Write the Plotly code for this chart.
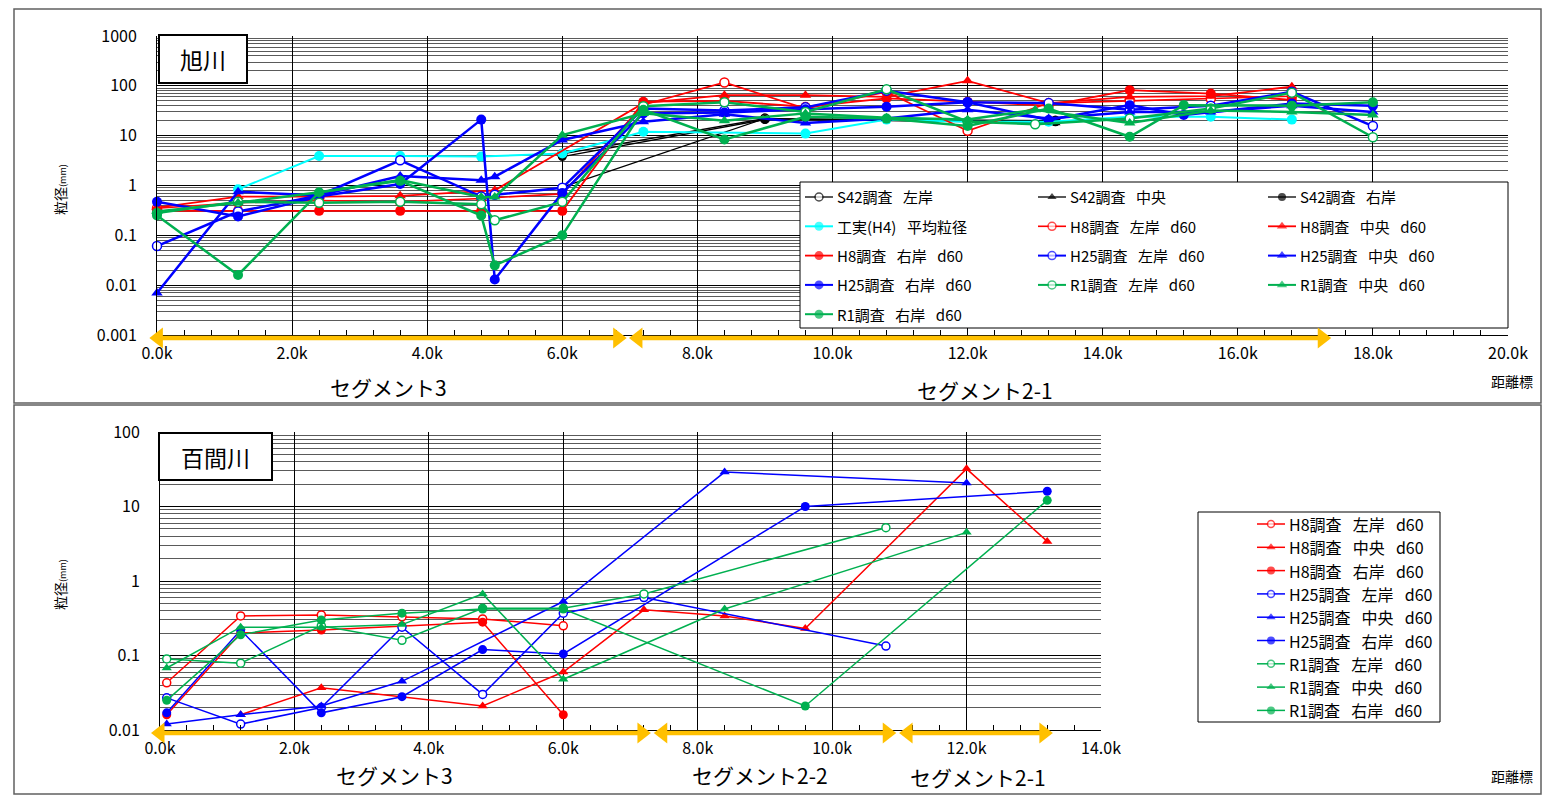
import plotly.graph_objects as go

# page body has an 8px margin: figure is shrunk and all reference pixel positions shifted
OFF = 8
W, H = 1551 - 2 * OFF, 803 - 2 * OFF
def px(x): return min(1.0, max(0.0, (x - OFF) / W))
def py(y): return min(1.0, max(0.0, 1 - (y - OFF) / H))

FONT = "Noto Sans CJK JP"
RED, BLUE, GREEN, CYAN, BLACK = "#FF0000", "#0000FF", "#00B050", "#00FFFF", "#000000"
YEL = "#FFC000"

# ---------------- 旭川 (top) data ----------------
s42_l_x = [6.0, 9.0, 13.3];  s42_l_y = [4.3, 22, 20]
s42_c_x = [6.0, 9.0, 13.3];  s42_c_y = [0.93, 22, 18]
s42_r_x = [6.0, 9.0, 13.3];  s42_r_y = [3.8, 21, 19]
h4_x = [1.2, 2.4, 3.6, 4.8, 6.0, 7.2, 9.6, 10.8, 12.0, 13.2, 14.4, 15.6, 16.8]
h4_y = [0.84, 3.9, 3.9, 3.8, 4.4, 12, 11, 21, 19, 19, 24, 24, 21]
a_h8_l_x = [0, 1.2, 2.4, 3.6, 4.8, 6.0, 7.2, 8.4, 9.6, 10.8, 12.0, 13.2, 14.4, 15.6, 16.8]
a_h8_l_y = [0.35, 0.45, 0.5, 0.47, 0.55, 0.68, 42, 117, 35, 75, 12.5, 45, 50, 55, 62]
a_h8_c_x = [0, 1.2, 2.4, 3.6, 5.0, 7.2, 8.4, 9.6, 10.8, 12.0, 13.2, 14.4, 15.6, 16.8]
a_h8_c_y = [0.36, 0.6, 0.6, 0.62, 0.8, 45, 65, 65, 60, 126, 45, 60, 62, 96]
a_h8_r_x = [0, 1.2, 2.4, 3.6, 4.8, 6.0, 7.2, 8.4, 9.6, 10.8, 12.0, 13.2, 14.4, 15.6, 16.8]
a_h8_r_y = [0.31, 0.31, 0.31, 0.31, 0.31, 0.31, 48, 50, 38, 56, 48, 40, 82, 70, 52]
a_h25_l_x = [0, 1.2, 2.4, 3.6, 4.8, 5.0, 6.0, 7.2, 8.4, 9.6, 10.8, 12.0, 13.2, 14.4, 15.6, 16.8, 18.0]
a_h25_l_y = [0.061, 0.3, 0.63, 3.2, 0.6, 0.65, 0.9, 35, 32, 37, 80, 47, 45, 33, 40, 76, 15.6]
a_h25_c_x = [0, 1.2, 2.4, 3.6, 4.8, 5.0, 6.0, 7.2, 8.4, 9.6, 10.8, 12.0, 13.2, 14.4, 15.6, 16.8, 18.0]
a_h25_c_y = [0.007, 0.75, 0.63, 1.55, 1.28, 1.5, 8.2, 19, 27, 18, 22, 33, 22, 30, 30, 40, 30]
a_h25_r_x = [0, 1.2, 2.4, 3.6, 4.8, 5.0, 6.0, 7.2, 8.4, 9.6, 10.8, 12.0, 13.2, 14.4, 15.2, 16.8, 18.0]
a_h25_r_y = [0.47, 0.24, 0.6, 1.07, 21, 0.013, 0.71, 28, 29, 34, 38, 47, 20.6, 41, 26, 44, 40]
a_r1_l_x = [0, 1.2, 2.4, 3.6, 4.8, 5.0, 6.0, 7.2, 8.4, 9.6, 10.8, 12.0, 13.0, 14.4, 15.6, 16.8, 18.0]
a_r1_l_y = [0.28, 0.47, 0.45, 0.47, 0.42, 0.2, 0.47, 39, 47, 30, 85, 19, 17, 22, 35, 73, 9.3]
a_r1_c_x = [0, 1.2, 2.4, 3.6, 4.8, 5.0, 6.0, 7.2, 8.4, 9.6, 10.8, 12.0, 13.0, 14.4, 15.6, 16.8, 18.0]
a_r1_c_y = [0.3, 0.45, 0.73, 1.29, 0.59, 0.59, 10.3, 28, 20, 28, 23, 21, 33, 18, 32, 30, 26]
a_r1_r_x = [0, 1.2, 2.4, 3.6, 4.8, 5.0, 6.0, 7.2, 8.4, 9.6, 10.8, 12.0, 13.2, 14.4, 15.2, 16.8, 18.0]
a_r1_r_y = [0.25, 0.016, 0.73, 1.24, 0.25, 0.025, 0.1, 33, 8.4, 24, 22, 15.7, 35, 9.5, 41, 40, 47]

# ---------------- 百間川 (bottom) data ----------------
b_h8_l_x = [0.1, 1.2, 2.4, 3.6, 4.8, 6.0];  b_h8_l_y = [0.043, 0.34, 0.35, 0.33, 0.31, 0.25]
b_h8_c_x = [1.2, 2.4, 4.8, 6.0, 7.2, 8.4, 9.6, 12.0, 13.2]
b_h8_c_y = [0.016, 0.037, 0.021, 0.06, 0.41, 0.34, 0.23, 32, 3.4]
b_h8_r_x = [0.1, 1.2, 2.4, 3.6, 4.8, 6.0];  b_h8_r_y = [0.016, 0.2, 0.22, 0.25, 0.28, 0.016]
b_h25_l_x = [0.1, 1.2, 2.4, 3.6, 4.8, 6.0, 7.2, 10.8]
b_h25_l_y = [0.027, 0.012, 0.02, 0.24, 0.03, 0.37, 0.6, 0.134]
b_h25_c_x = [0.1, 1.2, 2.4, 3.6, 6.0, 8.4, 12.0]
b_h25_c_y = [0.012, 0.016, 0.021, 0.045, 0.53, 29, 20.7]
b_h25_r_x = [0.1, 1.2, 2.4, 3.6, 4.8, 6.0, 9.6, 13.2]
b_h25_r_y = [0.017, 0.22, 0.017, 0.028, 0.12, 0.105, 10, 16]
b_r1_l_x = [0.1, 1.2, 2.4, 3.6, 4.8, 6.0, 7.2, 10.8]
b_r1_l_y = [0.09, 0.079, 0.25, 0.16, 0.43, 0.43, 0.67, 5.2]
b_r1_c_x = [0.1, 1.2, 2.4, 3.6, 4.8, 6.0, 8.4, 12.0]
b_r1_c_y = [0.068, 0.24, 0.24, 0.26, 0.67, 0.048, 0.42, 4.5]
b_r1_r_x = [0.1, 1.2, 2.4, 3.6, 4.8, 6.0, 9.6, 13.2]
b_r1_r_y = [0.025, 0.19, 0.3, 0.37, 0.42, 0.42, 0.021, 12.1]

# segment arrows (km of the two arrowhead centres)
top_segments = [(0.02, 6.82), (7.12, 17.25)]
bot_segments = [(0.0, 7.17), (7.48, 10.82), (11.13, 13.15)]
top_segment_names = ["セグメント3", "セグメント2-1"]
bot_segment_names = ["セグメント3", "セグメント2-2", "セグメント2-1"]

top_xticks = [0, 2, 4, 6, 8, 10, 12, 14, 16, 18, 20]
bot_xticks = [0, 2, 4, 6, 8, 10, 12, 14]
top_yticks = [0.001, 0.01, 0.1, 1, 10, 100, 1000]
top_ytext = ["0.001", "0.01", "0.1", "1", "10", "100", "1000"]
bot_yticks = [0.01, 0.1, 1, 10, 100]
bot_ytext = ["0.01", "0.1", "1", "10", "100"]

SP = "\u2002\u2009"
def nm(*parts): return SP.join(parts)

top_series = [
    (s42_l_x, s42_l_y, nm("S42調査", "左岸"), BLACK, "open", 1.3, 9),
    (s42_c_x, s42_c_y, nm("S42調査", "中央"), BLACK, "tri", 1.3, 9),
    (s42_r_x, s42_r_y, nm("S42調査", "右岸"), BLACK, "filled", 1.3, 9),
    (h4_x, h4_y, nm("工実(H4)", "平均粒径"), CYAN, "filled", 2, 10),
    (a_h8_l_x, a_h8_l_y, nm("H8調査", "左岸", "d60"), RED, "open", 1.6, 9),
    (a_h8_c_x, a_h8_c_y, nm("H8調査", "中央", "d60"), RED, "tri", 1.8, 10),
    (a_h8_r_x, a_h8_r_y, nm("H8調査", "右岸", "d60"), RED, "filled", 1.8, 10),
    (a_h25_l_x, a_h25_l_y, nm("H25調査", "左岸", "d60"), BLUE, "open", 2.5, 9),
    (a_h25_c_x, a_h25_c_y, nm("H25調査", "中央", "d60"), BLUE, "tri", 2.5, 10),
    (a_h25_r_x, a_h25_r_y, nm("H25調査", "右岸", "d60"), BLUE, "filled", 2.5, 10),
    (a_r1_l_x, a_r1_l_y, nm("R1調査", "左岸", "d60"), GREEN, "open", 2.5, 9),
    (a_r1_c_x, a_r1_c_y, nm("R1調査", "中央", "d60"), GREEN, "tri", 2.5, 10),
    (a_r1_r_x, a_r1_r_y, nm("R1調査", "右岸", "d60"), GREEN, "filled", 2.5, 10),
]
bot_series = [
    (b_h8_l_x, b_h8_l_y, nm("H8調査", "左岸", "d60"), RED, "open", 1.5, 8),
    (b_h8_c_x, b_h8_c_y, nm("H8調査", "中央", "d60"), RED, "tri", 1.5, 9),
    (b_h8_r_x, b_h8_r_y, nm("H8調査", "右岸", "d60"), RED, "filled", 1.5, 9),
    (b_h25_l_x, b_h25_l_y, nm("H25調査", "左岸", "d60"), BLUE, "open", 1.5, 8),
    (b_h25_c_x, b_h25_c_y, nm("H25調査", "中央", "d60"), BLUE, "tri", 1.5, 9),
    (b_h25_r_x, b_h25_r_y, nm("H25調査", "右岸", "d60"), BLUE, "filled", 1.5, 9),
    (b_r1_l_x, b_r1_l_y, nm("R1調査", "左岸", "d60"), GREEN, "open", 1.5, 8),
    (b_r1_c_x, b_r1_c_y, nm("R1調査", "中央", "d60"), GREEN, "tri", 1.5, 9),
    (b_r1_r_x, b_r1_r_y, nm("R1調査", "右岸", "d60"), GREEN, "filled", 1.5, 9),
]

def marker_for(kind, color, size):
    if kind == "open":
        return dict(symbol="circle", size=size, color="white", line=dict(color=color, width=1.5))
    if kind == "tri":
        return dict(symbol="triangle-up", size=size, color=color, line=dict(width=0))
    return dict(symbol="circle", size=size, color=color, line=dict(width=0))

fig = go.Figure()
for xs, ys, name, c, kind, lw, ms in top_series:
    fig.add_trace(go.Scatter(x=xs, y=ys, name=name, mode="lines+markers", line=dict(color=c, width=lw),
                             marker=marker_for(kind, c, ms), xaxis="x", yaxis="y", cliponaxis=False))
for xs, ys, name, c, kind, lw, ms in bot_series:
    fig.add_trace(go.Scatter(x=xs, y=ys, name=name, mode="lines+markers", line=dict(color=c, width=lw),
                             marker=marker_for(kind, c, ms), xaxis="x2", yaxis="y2", cliponaxis=False))

# ---- segment arrows on strip axes sharing the km scale of the main x axes ----
def arrows(segs, xa, ya):
    for a, b in segs:
        fig.add_trace(go.Scatter(x=[a, b], y=[0.5, 0.5], mode="lines+markers",
                                 line=dict(color=YEL, width=4.5),
                                 marker=dict(symbol=["triangle-left", "triangle-right"], size=18, color=YEL),
                                 xaxis=xa, yaxis=ya, hoverinfo="skip", cliponaxis=False))
arrows(top_segments, "x4", "y4")
arrows(bot_segments, "x5", "y5")

# ---- legends drawn on a pixel overlay axis ----
def legend_box(x0, y0, x1, y1):
    fig.add_trace(go.Scatter(x=[x0, x1, x1, x0, x0], y=[y0, y0, y1, y1, y0], mode="lines",
                             fill="toself", fillcolor="white", line=dict(color="#000", width=1),
                             xaxis="x3", yaxis="y3", hoverinfo="skip"))

ann = []
def text(x, y, t, size, xanchor="center", **kw):
    d = dict(xref="paper", yref="paper", x=px(x), y=py(y), text=t, showarrow=False,
             xanchor=xanchor, yanchor="middle", font=dict(size=size, family=FONT, color="#000"))
    d.update(kw)
    ann.append(d)

def legend_entries(series, cols, row0, dy, fsize, ncol):
    for i, (xs, ys, name, c, kind, lw, ms) in enumerate(series):
        tx = cols[i % ncol]
        ty = row0 + dy * (i // ncol)
        mk = marker_for(kind, c, ms - 1)
        mk["size"] = [0, ms - 1, 0]
        fig.add_trace(go.Scatter(x=[tx - 30, tx - 16, tx - 2], y=[ty, ty, ty], mode="lines+markers",
                                 line=dict(color=c, width=min(lw, 2)), marker=mk,
                                 xaxis="x3", yaxis="y3", hoverinfo="skip", cliponaxis=False))
        text(tx, ty, name, fsize, xanchor="left")

legend_box(800, 182, 1508, 328)
legend_entries(top_series, [835, 1068, 1298], 197, 29.3, 15, 3)
legend_box(1198, 512, 1440, 722)
legend_entries(bot_series, [1287], 524, 23.3, 16, 1)

def minor_vals(lo, hi):
    return [k * 10 ** d for d in range(lo, hi) for k in range(2, 10)]

def yaxis(dom, lo, hi, tv, tt, anchor):
    return dict(type="log", domain=dom, range=[lo, hi], tickmode="array", tickvals=tv, ticktext=tt,
                showgrid=True, gridcolor="#000000", gridwidth=1, showline=True, linecolor="#000000",
                ticks="", ticklabelstandoff=16,
                tickfont=dict(size=16, family=FONT, color="#000"),
                minor=dict(tickmode="array", tickvals=minor_vals(lo, hi), showgrid=True,
                           gridcolor="#5a5a5a", gridwidth=1.3, ticks=""),
                anchor=anchor, zeroline=False, automargin=False)

def xaxis(dom, hi, tv, anchor):
    return dict(domain=dom, range=[0, hi], tickmode="array", tickvals=tv,
                ticktext=["%.1fk" % v for v in tv], showgrid=True, gridcolor="#000000", gridwidth=1,
                showline=True, linecolor="#000000", ticks="inside", ticklen=6, tickcolor="#000",
                minor=dict(dtick=0.4, tick0=0, ticks="inside", ticklen=5, tickcolor="#000", showgrid=False),
                tickfont=dict(size=16, family=FONT, color="#000"), anchor=anchor, zeroline=False,
                automargin=False, ticklabelstandoff=4)

hidden = dict(visible=False, showgrid=False, zeroline=False, fixedrange=True)
# km scales of the main axes, in pixels per km
top_l, top_r, top_km = 157, 1508, 20
bot_l, bot_r, bot_km = 160, 1101, 14
def strip_range(p0, p1, left, right, km):
    s = (right - left) / km
    return [(p0 - left) / s, (p1 - left) / s]

fig.update_layout(
    width=W, height=H, margin=dict(l=0, r=0, t=0, b=0),
    paper_bgcolor="white", plot_bgcolor="rgba(0,0,0,0)", showlegend=False,
    font=dict(family=FONT, color="#000"),
    xaxis=xaxis([px(top_l), px(top_r)], top_km, top_xticks, "y"),
    yaxis=yaxis([py(335), py(36)], -3, 3, top_yticks, top_ytext, "x"),
    xaxis2=xaxis([px(bot_l), px(bot_r)], bot_km, bot_xticks, "y2"),
    yaxis2=yaxis([py(730), py(432)], -2, 2, bot_yticks, bot_ytext, "x2"),
    xaxis3=dict(hidden, domain=[0, 1], range=[OFF, OFF + W], anchor="y3"),
    yaxis3=dict(hidden, domain=[0, 1], range=[OFF + H, OFF], anchor="x3"),
    xaxis4=dict(hidden, domain=[px(140), px(1540)], range=strip_range(140, 1540, top_l, top_r, top_km), anchor="y4"),
    yaxis4=dict(hidden, domain=[py(346), py(330)], range=[0, 1], anchor="x4"),
    xaxis5=dict(hidden, domain=[px(140), px(1140)], range=strip_range(140, 1140, bot_l, bot_r, bot_km), anchor="y5"),
    yaxis5=dict(hidden, domain=[py(741), py(725)], range=[0, 1], anchor="x5"),
)

shapes = [
    dict(type="rect", xref="paper", yref="paper", x0=px(14), x1=px(1541), y0=py(403), y1=py(9),
         line=dict(color="#606060", width=1.5), fillcolor="rgba(0,0,0,0)", layer="above"),
    dict(type="rect", xref="paper", yref="paper", x0=px(14), x1=px(1541), y0=py(794), y1=py(405),
         line=dict(color="#606060", width=1.5), fillcolor="rgba(0,0,0,0)", layer="above"),
]
fig.update_layout(shapes=shapes)

text(202.5, 59.5, "旭川", 23, bordercolor="#000", borderwidth=2, bgcolor="white", width=86, height=46, borderpad=0)
text(215, 456.5, "百間川", 23, bordercolor="#000", borderwidth=2, bgcolor="white", width=111, height=45, borderpad=0)
text(388, 387, top_segment_names[0], 21)
text(985, 390, top_segment_names[1], 21)
text(395, 775, bot_segment_names[0], 21)
text(760, 775, bot_segment_names[1], 21)
text(978, 777, bot_segment_names[2], 21)
text(1512, 381, "距離標", 14)
text(1512, 776, "距離標", 14)
text(60, 190, "粒径<span style='font-size:9px'>(mm)</span>", 14, textangle=-90)
text(60, 585, "粒径<span style='font-size:9px'>(mm)</span>", 14, textangle=-90)
fig.update_layout(annotations=ann)

fig.write_html("out.html")
